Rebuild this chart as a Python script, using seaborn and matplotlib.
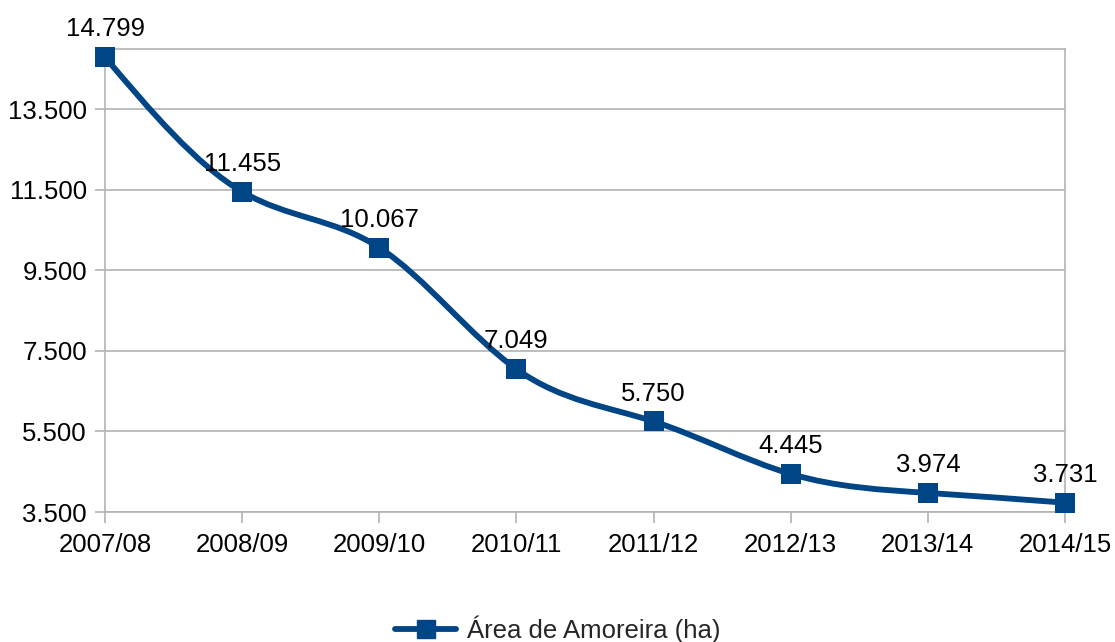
import numpy as np
import matplotlib
matplotlib.use("Agg")
import matplotlib.pyplot as plt
from matplotlib.path import Path
from matplotlib.patches import PathPatch
from matplotlib.lines import Line2D
import seaborn as sns

# dados
safras = ["2007/08", "2008/09", "2009/10", "2010/11", "2011/12", "2012/13", "2013/14", "2014/15"]
area = [14799, 11455, 10067, 7049, 5750, 4445, 3974, 3731]
serie = "Área de Amoreira (ha)"
yticks = [3500, 5500, 7500, 9500, 11500, 13500]

cor = "#004586"
cinza = "#b3b3b3"
fs = 18.5

sns.set_style("white")
plt.rcParams["font.family"] = ["Liberation Sans", "DejaVu Sans"]

fig = plt.figure(figsize=(11.15, 6.42), dpi=100)
ax = fig.add_axes([105 / 1115, 1 - 512 / 642, 960 / 1115, 463 / 642])

x = np.arange(len(area), dtype=float)
y = np.array(area, dtype=float)

# spline cubica natural (como no LibreOffice), desenhada como curva de Bezier
n = len(y)
A = np.zeros((n, n))
b = np.zeros(n)
A[0, 0] = 1
A[-1, -1] = 1
for i in range(1, n - 1):
    A[i, i - 1], A[i, i], A[i, i + 1] = 1, 4, 1
    b[i] = 6 * (y[i + 1] - 2 * y[i] + y[i - 1])
M = np.linalg.solve(A, b)
verts = [(x[0], y[0])]
codes = [Path.MOVETO]
for i in range(n - 1):
    d = y[i + 1] - y[i]
    d0 = d - (2 * M[i] + M[i + 1]) / 6
    d1 = d + (M[i] + 2 * M[i + 1]) / 6
    verts += [(x[i] + 1 / 3, y[i] + d0 / 3), (x[i + 1] - 1 / 3, y[i + 1] - d1 / 3), (x[i + 1], y[i + 1])]
    codes += [Path.CURVE4] * 3
ax.add_patch(PathPatch(Path(verts, codes), fill=False, edgecolor=cor, lw=4.2, zorder=3,
                       capstyle="round", joinstyle="round", clip_on=False))

sns.scatterplot(x=x, y=y, marker="s", s=200, color=cor, edgecolor=cor, linewidth=0, zorder=4,
                clip_on=False, ax=ax)

for xi, yi in zip(x, area):
    ax.annotate(f"{yi:,}".replace(",", "."), (xi, yi), xytext=(0, 15), textcoords="offset points",
                ha="center", va="baseline", fontsize=fs, color="black", zorder=5)

ax.set_xlim(0, len(area) - 1)
ax.set_ylim(3500, 15000)
ax.set_xticks(x)
ax.set_xticklabels(safras)
ax.set_yticks(yticks)
ax.set_yticklabels([f"{v:,}".replace(",", ".") for v in yticks])
ax.tick_params(axis="both", labelsize=fs, colors=cinza, labelcolor="black", width=1.2)
ax.tick_params(axis="y", length=7, pad=6, left=True)
ax.tick_params(axis="x", length=8, pad=7, bottom=True)
ax.grid(axis="y", color=cinza, lw=1.2)
ax.set_axisbelow(True)
for s in ax.spines.values():
    s.set_color(cinza)
    s.set_linewidth(1.2)
    s.set_visible(True)

handle = Line2D([], [], color=cor, lw=4.2, marker="s", markersize=13)
fig.legend([handle], [serie], loc="center", bbox_to_anchor=(0.5, 0.02), frameon=False,
           fontsize=fs, handlelength=2.4, handletextpad=0.4)

fig.savefig("out.png", dpi=100)
